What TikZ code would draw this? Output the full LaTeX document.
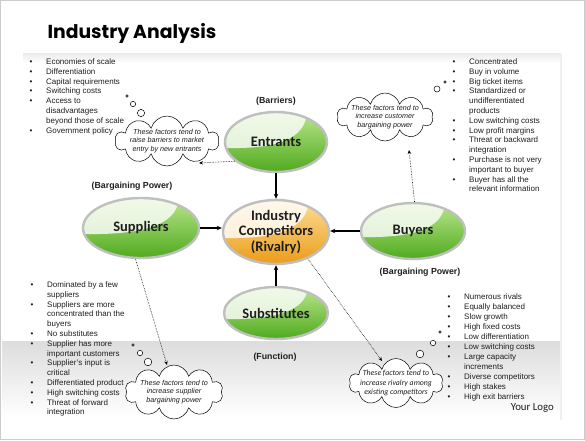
\documentclass[tikz,border=0pt]{standalone}
\usepackage{fontspec}
\setmainfont{Liberation Sans}
\newfontfamily\calfont{Carlito}
\newfontfamily\titlefont{Poppins}
\usetikzlibrary{shapes.geometric,shapes.symbols,arrows.meta}
\definecolor{gtop}{RGB}{185,230,140}
\definecolor{gbot}{RGB}{80,170,30}
\definecolor{otop}{RGB}{252,222,150}
\definecolor{obot}{RGB}{236,156,25}
\definecolor{txt}{RGB}{30,30,30}
\tikzset{
  oval/.style={ellipse, draw=gray!50, line width=2.4pt, inner sep=0pt,
    top color=gtop, bottom color=gbot, text=txt,
    font=\calfont\bfseries\fontsize{14.5}{15.5}\selectfont, align=center,
    path picture={\fill[white,opacity=.8]
      ([yshift=-6pt]path picture bounding box.west)
      .. controls ([xshift=0pt,yshift=-7pt]path picture bounding box.center)
      and ([xshift=-22pt,yshift=2pt]path picture bounding box.east)
      .. ([xshift=-20pt]path picture bounding box.north east)
      -- (path picture bounding box.north west) -- cycle;}},
  orangeoval/.style={oval, top color=otop, bottom color=obot},
  tag/.style={font=\bfseries\fontsize{8.8}{10}\selectfont, text=txt, inner sep=0pt},
  arr/.style={line width=1.3pt, -{Stealth[length=5pt,width=4.5pt]}},
  dotarr/.style={line width=.6pt, densely dotted, -{Stealth[length=4pt,width=3.5pt]}},
  thought/.style={cloud, cloud puffs=10, cloud ignores aspect, draw=black, line width=.5pt, fill=white, inner sep=0pt},
  ctext/.style={font=\itshape\fontsize{7.2}{8.6}\selectfont, align=center, text=txt, inner sep=0pt},
  bub/.style={draw=black, line width=.5pt, fill=white},
  list/.style={anchor=north west, inner sep=0pt, text=txt, font=\fontsize{8}{9.8}\selectfont}
}
\begin{document}
\begin{tikzpicture}[x=1pt,y=-1pt]
\useasboundingbox (0,0) rectangle (585,440);
% background
\fill[white] (0,0) rectangle (585,440);
\shade[top color=gray!16, bottom color=white] (23,53) rectangle (561,63);
\shade[top color=gray!27, bottom color=white] (2,341) rectangle (561,418);
\draw[gray!12, line width=1.5pt] (561,53) -- (561,420);
\draw[gray!40, line width=.8pt] (0.5,0.5) rectangle (584.5,439.5);
% title
\node[inner sep=0pt, font=\titlefont\bfseries\fontsize{18.8}{22}\selectfont] (title) at (132,33) {Industry Analysis};
% ovals
\node[oval, minimum width=102pt, minimum height=60pt] (ent) at (276,142) {Entrants};
\node[oval, minimum width=116pt, minimum height=60pt] (sup) at (141,228) {Suppliers};
\node[orangeoval, minimum width=106pt, minimum height=64pt] (comp) at (276,232) {Industry\\Competitors\\(Rivalry)};
\node[oval, minimum width=104pt, minimum height=56pt] (buy) at (413,231) {Buyers};
\node[oval, minimum width=104pt, minimum height=52pt] (sub) at (276,313) {Substitutes};
% tags
\node[tag] (tb) at (276,101) {(Barriers)};
\node[tag] (tbp1) at (132,186) {(Bargaining Power)};
\node[tag] (tbp2) at (420,272) {(Bargaining Power)};
\node[tag] (tf) at (275,357) {(Function)};
% solid arrows
\draw[arr] (ent.south) -- (comp.north);
\draw[arr] (sub.north) -- (comp.south);
\draw[arr] (sup.east) -- (sup.east -| comp.west);
\draw[arr] (buy.west) -- (buy.west -| comp.east);
% clouds
\node[thought, minimum width=104pt, minimum height=50pt] (c1) at (167,141) {};
\node[ctext] (t1) at (c1) {These factors tend to\\raise barriers to market\\entry by new entrants};
\node[thought, minimum width=96pt, minimum height=48pt] (c2) at (385,117) {};
\node[ctext] (t2) at (c2) {These factors tend to\\increase customer\\bargaining power};
\node[thought, minimum width=98pt, minimum height=54pt] (c3) at (174,392) {};
\node[ctext] (t3) at (c3) {These factors tend to\\increase supplier\\bargaining power};
\node[thought, minimum width=94pt, minimum height=49pt] (c4) at (396,383) {};
\node[ctext, font=\calfont\itshape\fontsize{7.8}{9.3}\selectfont] (t4) at (c4) {These factors tend to\\increase rivalry among\\existing competitors};
% thought bubbles
\draw[bub] (127,96) circle (1.3);
\draw[bub] (133,104) circle (2.7);
\draw[bub] (141,113) circle (3.6);
\draw[bub] (445,82) circle (1.3);
\draw[bub] (437,89) circle (3);
\draw[bub] (133,345) circle (1.3);
\draw[bub] (140,353) circle (2.7);
\draw[bub] (148,362) circle (3.8);
\draw[bub] (440,332) circle (1.3);
\draw[bub] (433,343) circle (2.7);
\draw[bub] (420,354) circle (3.8);
% dotted arrows
\coordinate (h1) at (199,163);
\coordinate (h2) at (409,150);
\coordinate (h3) at (167,365);
\coordinate (h4) at (382,361);
\draw[dotarr] (ent.205) -- (h1);
\draw[dotarr] (buy.87) -- (h2);
\draw[dotarr] (sup.-100) -- (h3);
\draw[dotarr] (comp.-40) -- (h4);
% lists
\node[list] (l1) at (29.5,57.5) {\begin{tabular}{@{}p{16.5pt}@{}l@{}}
\textbullet & Economies of scale\\
\textbullet & Differentiation\\
\textbullet & Capital requirements\\
\textbullet & Switching costs\\
\textbullet & Access to\\
 & disadvantages\\
 & beyond those of scale\\
\textbullet & Government policy
\end{tabular}};
\node[list] (l2) at (452.5,57.5) {\begin{tabular}{@{}p{16.5pt}@{}l@{}}
\textbullet & Concentrated\\
\textbullet & Buy in volume\\
\textbullet & Big ticket items\\
\textbullet & Standardized or\\
 & undifferentiated\\
 & products\\
\textbullet & Low switching costs\\
\textbullet & Low profit margins\\
\textbullet & Threat or backward\\
 & integration\\
\textbullet & Purchase is not very\\
 & important to buyer\\
\textbullet & Buyer has all the\\
 & relevant information
\end{tabular}};
\node[list] (l3) at (30.5,280.5) {\begin{tabular}{@{}p{16.5pt}@{}l@{}}
\textbullet & Dominated by a few\\
 & suppliers\\
\textbullet & Suppliers are more\\
 & concentrated than the\\
 & buyers\\
\textbullet & No substitutes\\
\textbullet & Supplier has more\\
 & important customers\\
\textbullet & Supplier's input is\\
 & critical\\
\textbullet & Differentiated product\\
\textbullet & High switching costs\\
\textbullet & Threat of forward\\
 & integration
\end{tabular}};
\node[list, font=\fontsize{8}{10}\selectfont] (l4) at (447.5,292) {\begin{tabular}{@{}p{16.5pt}@{}l@{}}
\textbullet & Numerous rivals\\
\textbullet & Equally balanced\\
\textbullet & Slow growth\\
\textbullet & High fixed costs\\
\textbullet & Low differentiation\\
\textbullet & Low switching costs\\
\textbullet & Large capacity\\
 & increments\\
\textbullet & Diverse competitors\\
\textbullet & High stakes\\
\textbullet & High exit barriers
\end{tabular}};
\node[anchor=east, inner sep=0pt, text=txt, font=\calfont\fontsize{10.8}{12}\selectfont] (logo) at (554,408) {Your Logo};
\end{tikzpicture}
\end{document}
